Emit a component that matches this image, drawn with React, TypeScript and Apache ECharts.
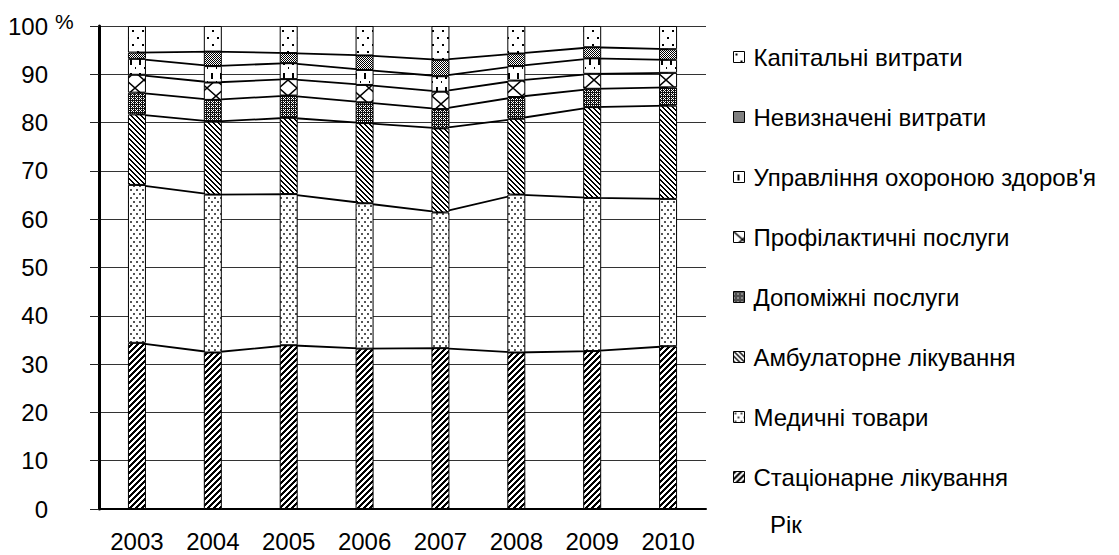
import React, { useEffect, useRef } from "react";
import * as echarts from "echarts";

const years = ["2003", "2004", "2005", "2006", "2007", "2008", "2009", "2010"];
const seriesNames = [
  "Стаціонарне лікування",
  "Медичні товари",
  "Амбулаторне лікування",
  "Допоміжні послуги",
  "Профілактичні послуги",
  "Управління охороною здоров'я",
  "Невизначені витрати",
  "Капітальні витрати",
];
const inpatient = [34.4, 32.4, 33.9, 33.2, 33.3, 32.4, 32.7, 33.7];
const medicalGoods = [32.7, 32.7, 31.3, 30.1, 28.1, 32.7, 31.7, 30.5];
const outpatient = [14.6, 15.1, 15.8, 16.6, 17.4, 15.7, 18.8, 19.3];
const auxiliary = [4.5, 4.5, 4.6, 4.3, 4.0, 4.5, 3.8, 3.8];
const preventive = [3.7, 3.6, 3.4, 3.6, 3.6, 3.4, 3.1, 3.0];
const management = [3.3, 3.4, 3.3, 3.1, 3.2, 3.0, 3.2, 2.7];
const undetermined = [1.3, 3.0, 2.1, 3.0, 3.4, 2.6, 2.3, 2.2];
const capital = [5.5, 5.3, 5.6, 6.1, 7.0, 5.7, 4.4, 4.8];
const seriesValues = [inpatient, medicalGoods, outpatient, auxiliary, preventive, management, undetermined, capital];

const FONT = "'Liberation Sans', Arial, sans-serif";
const FS = 24;

function tile(w: number, h: number, draw: (ctx: CanvasRenderingContext2D) => void) {
  const c = document.createElement("canvas");
  c.width = w;
  c.height = h;
  const ctx = c.getContext("2d") as CanvasRenderingContext2D;
  ctx.fillStyle = "#fff";
  ctx.fillRect(0, 0, w, h);
  ctx.fillStyle = "#000";
  ctx.strokeStyle = "#000";
  draw(ctx);
  return { image: c, repeat: "repeat", imageWidth: w, imageHeight: h } as any;
}

function px(ctx: CanvasRenderingContext2D, x: number, y: number, w = 1, h = 1) {
  ctx.fillRect(x, y, w, h);
}

function makePatterns() {
  // inpatient: wide "/" stripes
  const p0 = tile(6, 6, (ctx) => {
    for (let x = 0; x < 6; x++)
      for (let y = 0; y < 6; y++) if ((x + y) % 6 < 3) px(ctx, x, y);
  });
  // medical goods: staggered dots
  const p1 = tile(6, 8, (ctx) => {
    ctx.fillStyle = "#555";
    px(ctx, 1, 1, 2, 2);
    px(ctx, 4, 5, 2, 2);
  });
  // outpatient: "\" stripes
  const p2 = tile(5, 5, (ctx) => {
    for (let x = 0; x < 5; x++)
      for (let y = 0; y < 5; y++) if ((x - y + 10) % 5 < 2) px(ctx, x, y);
  });
  // auxiliary: dark with white dots
  const p3 = tile(4, 4, (ctx) => {
    ctx.fillStyle = "#111";
    ctx.fillRect(0, 0, 4, 4);
    ctx.fillStyle = "#fff";
    px(ctx, 1, 1);
    px(ctx, 3, 3);
    px(ctx, 3, 1);
    px(ctx, 1, 3);
    px(ctx, 0, 2);
  });
  // preventive: large X lattice
  const p4 = tile(18, 16, (ctx) => {
    ctx.lineWidth = 1.5;
    ctx.beginPath();
    ctx.moveTo(0, 0);
    ctx.lineTo(18, 16);
    ctx.moveTo(18, 0);
    ctx.lineTo(0, 16);
    ctx.stroke();
  });
  // management: short vertical dashes
  const p5 = tile(9, 14, (ctx) => {
    px(ctx, 4, 3, 2, 6);
    px(ctx, 0, 11, 1, 2);
  });
  // undetermined: fine checker
  const p6 = tile(2, 2, (ctx) => {
    px(ctx, 0, 0);
    px(ctx, 1, 1);
  });
  // capital: sparse dots
  const p7 = tile(10, 14, (ctx) => {
    px(ctx, 2, 2, 2, 2);
    px(ctx, 7, 9, 2, 2);
  });
  return [p0, p1, p2, p3, p4, p5, p6, p7];
}

export default function App() {
  const ref = useRef<HTMLDivElement>(null);
  useEffect(() => {
    if (!ref.current) return;
    const chart = echarts.init(ref.current, undefined, { renderer: "svg" });
    const patterns = makePatterns();

    const bars = seriesNames.map((name, i) => ({
      name,
      type: "bar",
      stack: "total",
      barWidth: 18,
      z: 3,
      data: seriesValues[i],
      itemStyle: { color: patterns[i], borderColor: "#000", borderWidth: 1 },
      emphasis: { disabled: true },
    }));
    const lines = seriesNames.slice(0, 7).map((name, i) => ({
      name: "line-" + name,
      type: "line",
      stack: "lines",
      z: 2,
      data: seriesValues[i],
      showSymbol: false,
      symbol: "none",
      silent: true,
      lineStyle: { color: "#000", width: 1.8 },
    }));

    chart.setOption({
      animation: false,
      backgroundColor: "#fff",
      grid: { left: 99, right: 413, top: 26, bottom: 46 },
      legend: {
        orient: "vertical",
        left: 728,
        top: 37,
        padding: 5,
        itemGap: 30,
        itemWidth: 11,
        itemHeight: 11,
        icon: "rect",
        selectedMode: false,
        data: seriesNames.slice().reverse(),
        itemStyle: { borderColor: "#000", borderWidth: 1 },
        textStyle: { fontFamily: FONT, fontSize: FS, color: "#000", lineHeight: 30, padding: [0, 0, 0, 4] },
      },
      xAxis: {
        type: "category",
        data: years,
        name: "Рік",
        nameLocation: "end",
        nameGap: 64,
        nameTextStyle: { fontFamily: FONT, fontSize: FS, color: "#000", verticalAlign: "top", lineHeight: 30, align: "left", padding: [0, 0, 0, 0] },
        axisLine: { lineStyle: { color: "#000", width: 2 } },
        axisTick: { show: false },
        axisLabel: { interval: 0, fontFamily: FONT, fontSize: FS, color: "#000", margin: 20 },
      },
      yAxis: {
        type: "value",
        min: 0,
        max: 100,
        interval: 10,
        axisLine: { show: true, lineStyle: { color: "#000", width: 3 } },
        axisTick: { show: true, length: 9, lineStyle: { color: "#222", width: 1 } },
        splitLine: { lineStyle: { color: "#333", width: 1 } },
        axisLabel: { fontFamily: FONT, fontSize: FS, color: "#000", margin: 51 },
      },
      graphic: [
        {
          type: "text",
          left: 55,
          top: 11,
          style: { text: "%", fontFamily: FONT, fontSize: 21, fill: "#000" },
        },
      ],
      series: [...lines, ...bars],
    });
    return () => chart.dispose();
  }, []);
  return <div ref={ref} style={{ position: "fixed", left: 0, top: 0, width: 1119, height: 555 }} />;
}
